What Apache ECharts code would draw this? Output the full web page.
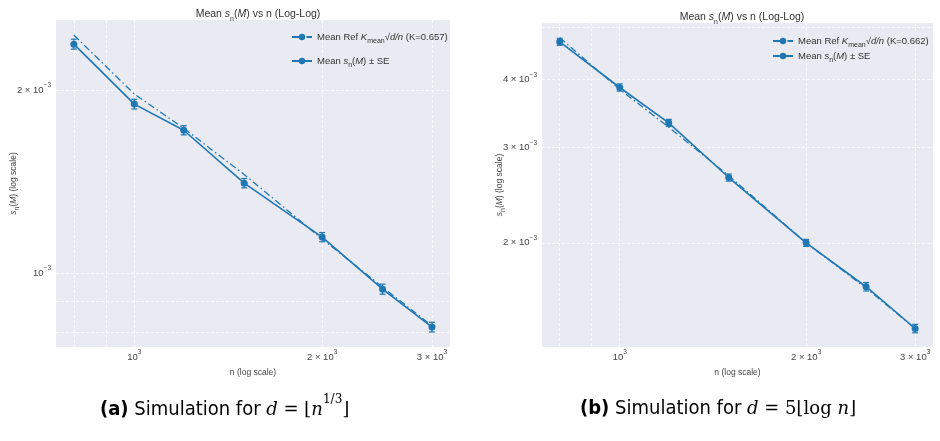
<!DOCTYPE html>
<html>
<head>
<meta charset="utf-8">
<script src="https://cdn.jsdelivr.net/npm/echarts@6/dist/echarts.min.js"></script>
<style>
  html, body { margin: 0; padding: 0; background: #fff; }
  #chart { width: 940px; height: 441px; }
</style>
</head>
<body>
<div id="chart"></div>
<script>
// sample sizes n (same for both panels)
var nValues = [800, 1000, 1200, 1500, 2000, 2500, 3000];

// panel (a): d = floor(n^(1/3))
var meanA = [2.381e-3, 1.897e-3, 1.718e-3, 1.406e-3, 1.146e-3, 0.941e-3, 0.815e-3];
var seA   = [0.045e-3, 0.035e-3, 0.030e-3, 0.025e-3, 0.020e-3, 0.018e-3, 0.015e-3];
var refA  = [2.464e-3, 1.971e-3, 1.731e-3, 1.453e-3, 1.138e-3, 0.948e-3, 0.819e-3];

// panel (b): d = 5 floor(log n)
var meanB = [4.70e-3, 3.87e-3, 3.33e-3, 2.64e-3, 2.00e-3, 1.66e-3, 1.39e-3];
var seB   = [0.07e-3, 0.06e-3, 0.05e-3, 0.04e-3, 0.03e-3, 0.03e-3, 0.025e-3];
var refB  = [4.78e-3, 3.84e-3, 3.27e-3, 2.66e-3, 2.00e-3, 1.65e-3, 1.39e-3];

// tick labels and grid lines
var xTicks = [1000, 2000, 3000];
var xTickText = ['10{sup|3}', '2 × 10{sup|3}', '3 × 10{sup|3}'];
var xGrid = [800, 900, 1000, 2000, 3000];
var yTicksA = [1e-3, 2e-3];
var yTickTextA = ['10{sup|−3}', '2 × 10{sup|−3}'];
var yGridA = [8e-4, 9e-4, 1e-3, 2e-3];
var yTicksB = [2e-3, 3e-3, 4e-3];
var yTickTextB = ['2 × 10{sup|−3}', '3 × 10{sup|−3}', '4 × 10{sup|−3}'];
var yGridB = [2e-3, 3e-3, 4e-3, 5e-3];

var BLUE = '#1f77b4';
var SANS = 'Liberation Sans, Arial, sans-serif';
var NARROW = 'Liberation Sans Narrow, DejaVu Sans Condensed, sans-serif';

var richMath = {
  i: { fontStyle: 'italic', fontFamily: SANS },
  sub: { fontSize: 7, verticalAlign: 'bottom', lineHeight: 8, padding: [0, 0, -3, 0] },
  sup: { fontSize: 6.5, verticalAlign: 'top', lineHeight: 8, padding: [-3, 0, 0, 0] }
};

function lg(v) { return Math.log10(v); }

function logAxis(idx, min, max, ticks, texts, grid, name, nameGap, isY) {
  var tv = ticks.map(lg);
  return {
    type: 'value',
    gridIndex: idx,
    min: lg(min),
    max: lg(max),
    name: name,
    nameLocation: 'middle',
    nameGap: nameGap,
    nameMoveOverlap: false,
    nameRotate: isY ? 90 : 0,
    nameTextStyle: { color: '#444', fontSize: 8.5, fontFamily: SANS, rich: richMath },
    axisLine: { show: false },
    axisTick: { show: false, customValues: grid.map(lg) },
    splitLine: { show: true, lineStyle: { color: '#ffffff', type: [3, 2], width: 0.8 } },
    axisLabel: {
      customValues: tv,
      color: '#444',
      fontSize: 9.5,
      fontFamily: SANS,
      margin: 5,
      rich: richMath,
      formatter: function (v) {
        var best = 0;
        for (var k = 1; k < tv.length; k++) {
          if (Math.abs(tv[k] - v) < Math.abs(tv[best] - v)) best = k;
        }
        return texts[best];
      }
    }
  };
}

function pts(ns, vs) {
  return ns.map(function (n, i) { return [lg(n), lg(vs[i])]; });
}
function bars(ns, vs, se) {
  return ns.map(function (n, i) { return [lg(n), lg(vs[i] - se[i]), lg(vs[i] + se[i])]; });
}

function errorBarItem(params, api) {
  var x = api.value(0);
  var pLo = api.coord([x, api.value(1)]);
  var pHi = api.coord([x, api.value(2)]);
  var cap = 3;
  var st = { stroke: BLUE, lineWidth: 1.2 };
  return {
    type: 'group',
    children: [
      { type: 'line', shape: { x1: pLo[0], y1: pLo[1], x2: pHi[0], y2: pHi[1] }, style: st },
      { type: 'line', shape: { x1: pLo[0] - cap, y1: pLo[1], x2: pLo[0] + cap, y2: pLo[1] }, style: st },
      { type: 'line', shape: { x1: pHi[0] - cap, y1: pHi[1], x2: pHi[0] + cap, y2: pHi[1] }, style: st }
    ]
  };
}

function panelSeries(idx, mean, se, ref, refName, meanName) {
  return [
    {
      name: refName, type: 'line', xAxisIndex: idx, yAxisIndex: idx,
      data: pts(nValues, ref), showSymbol: false, symbol: 'none',
      lineStyle: { color: BLUE, width: 1.3, type: [7, 3, 1.5, 3] },
      itemStyle: { color: BLUE }, animation: false, z: 2
    },
    {
      name: meanName, type: 'line', xAxisIndex: idx, yAxisIndex: idx,
      data: pts(nValues, mean), symbol: 'circle', symbolSize: 7,
      lineStyle: { color: BLUE, width: 1.6 },
      itemStyle: { color: BLUE }, animation: false, z: 3
    },
    {
      type: 'custom', xAxisIndex: idx, yAxisIndex: idx,
      data: bars(nValues, mean, se), renderItem: errorBarItem,
      encode: { x: 0, y: [1, 2] }, animation: false, z: 4, silent: true
    }
  ];
}

var legendText = {
  refA: 'Mean Ref {i|K}{sub|mean}√{i|d/n} (K=0.657)',
  meanA: 'Mean {i|s}{sub|n}({i|M}) ± SE',
  refB: 'Mean Ref {i|K}{sub|mean}√{i|d/n} (K=0.662)',
  meanB: 'Mean {i|s}{sub|n}({i|M}) ± SE'
};

function legend(left, top, gap, names) {
  return {
    orient: 'vertical', left: left, top: top, itemGap: gap,
    itemWidth: 20, itemHeight: 8,
    data: names,
    textStyle: { color: '#333', fontSize: 9.5, fontFamily: SANS, rich: richMath },
    formatter: function (name) { return legendText[name]; }
  };
}

var titleText = 'Mean {i|s}{sub|n}({i|M}) vs n (Log-Log)';
var yName = '{i|s}{sub|n}({i|M}) (log scale)';

var captionRich = {
  b: { fontWeight: 'bold', fontSize: 20, fontFamily: NARROW },
  m: { fontStyle: 'italic', fontSize: 18, fontFamily: 'DejaVu Serif, serif' },
  r: { fontSize: 18, fontFamily: 'DejaVu Serif, serif' },
  sup: { fontSize: 12, fontFamily: 'DejaVu Serif, serif', verticalAlign: 'top', lineHeight: 12, padding: [-6, 0, 0, 0] }
};

var chart = echarts.init(document.getElementById('chart'));
chart.setOption({
  backgroundColor: '#ffffff',
  animation: false,
  title: [
    { text: titleText, left: 253, top: 4, textAlign: 'center',
      textStyle: { fontSize: 10.5, fontWeight: 'normal', color: '#333', fontFamily: SANS, rich: richMath } },
    { text: titleText, left: 737, top: 7, textAlign: 'center',
      textStyle: { fontSize: 10.5, fontWeight: 'normal', color: '#333', fontFamily: SANS, rich: richMath } }
  ],
  legend: [
    legend(286, 27, 11, ['refA', 'meanA']),
    legend(767, 31, 2, ['refB', 'meanB'])
  ],
  grid: [
    { left: 56, top: 20, width: 394, height: 327, show: true, backgroundColor: '#eaeaf2', borderWidth: 0 },
    { left: 542, top: 23, width: 391, height: 324, show: true, backgroundColor: '#eaeaf2', borderWidth: 0 }
  ],
  xAxis: [
    logAxis(0, 749, 3206, xTicks, xTickText, xGrid, 'n (log scale)', 21, false),
    logAxis(1, 749, 3206, xTicks, xTickText, xGrid, 'n (log scale)', 21, false)
  ],
  yAxis: [
    logAxis(0, 0.7557e-3, 2.609e-3, yTicksA, yTickTextA, yGridA, yName, 38, true),
    logAxis(1, 1.285e-3, 5.09e-3, yTicksB, yTickTextB, yGridB, yName, 38, true)
  ],
  series: panelSeries(0, meanA, seA, refA, 'refA', 'meanA')
    .concat(panelSeries(1, meanB, seB, refB, 'refB', 'meanB')),
  graphic: [
    { type: 'text', left: 100, top: 394, style: {
        text: '{b|(a)} Simulation for {m|d} {r|= ⌊}{m|n}{sup|1/3}{r|⌋}',
        fontSize: 20, fontFamily: NARROW,
        fill: '#000', rich: captionRich } },
    { type: 'text', left: 580, top: 399, style: {
        text: '{b|(b)} Simulation for {m|d} {r|= 5⌊log }{m|n}{r|⌋}',
        fontSize: 20, fontFamily: NARROW,
        fill: '#000', rich: captionRich } }
  ]
});
</script>
</body>
</html>
